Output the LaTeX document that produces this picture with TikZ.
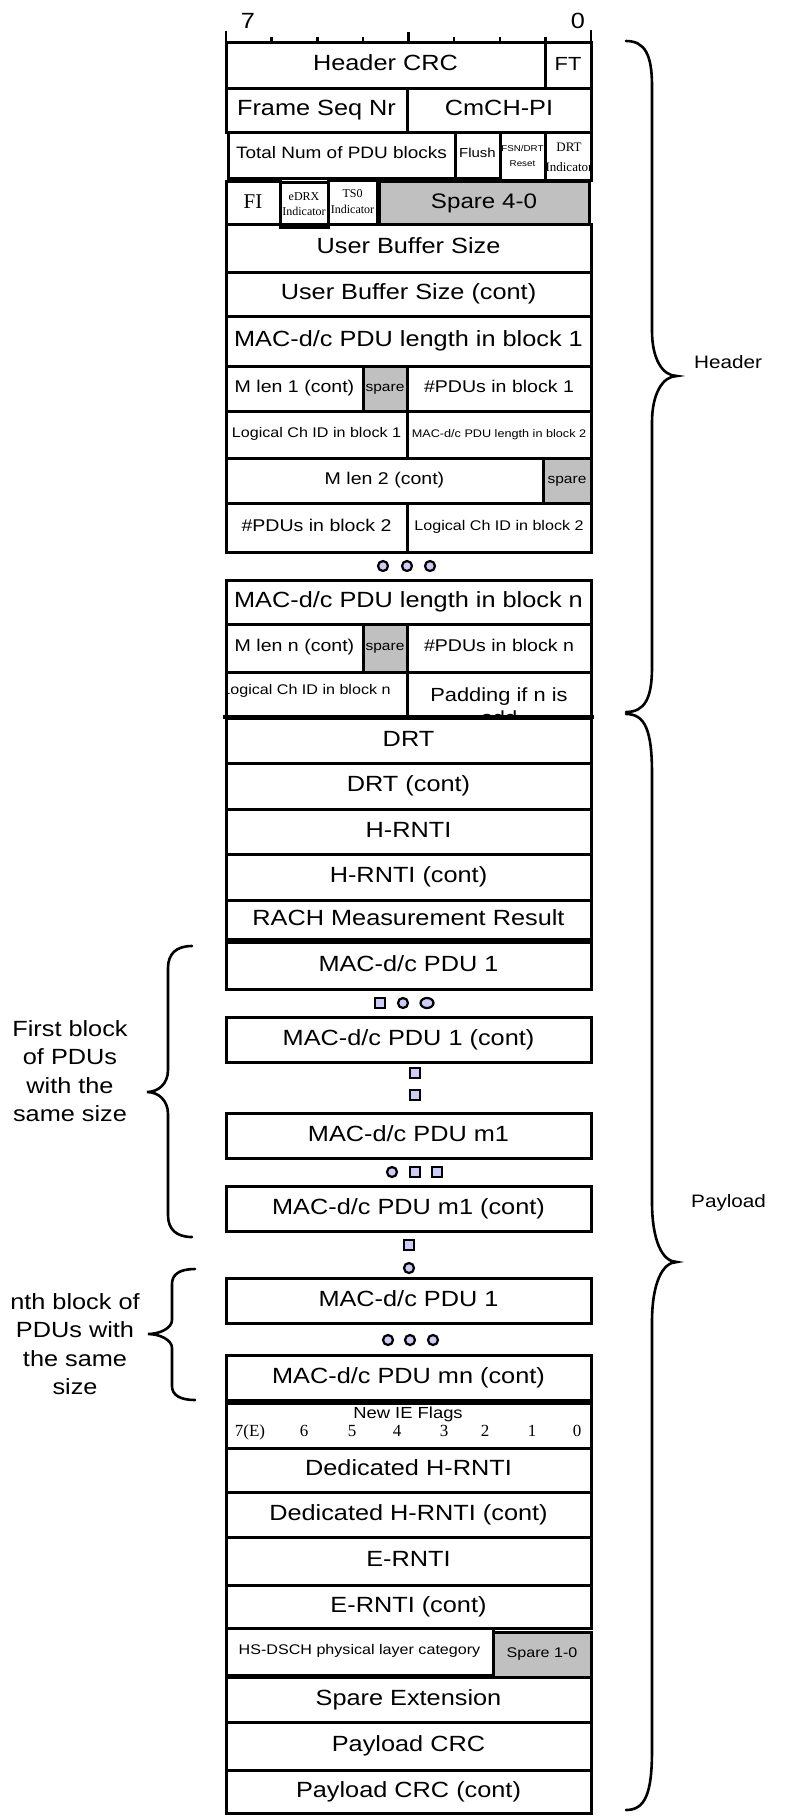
\documentclass[tikz,border=0pt]{standalone}
\usepackage{fontspec}
\setmainfont{Liberation Sans}[FakeStretch=1.15]
\newfontfamily\timesfam{Liberation Serif}
\usetikzlibrary{calc}
\definecolor{sparegray}{RGB}{192,192,192}
\definecolor{dotfill}{RGB}{204,204,250}
\def\field[#1](#2)(#3)[#4]#5#6{\draw[#1] (#2) rectangle (#3); \node[#4] (#5) at ($(#2)!0.5!(#3)$) {#6};}
\tikzset{
  fld/.style={draw=black, line width=3pt},
  sparefld/.style={fld, fill=sparegray},
  rulertick/.style={line width=2.6pt},
  brc/.style={line width=2.6pt, line cap=round},
  dotm/.style={draw=black, line width=2.2pt, fill=dotfill},
  txt/.style={inner sep=0pt, anchor=mid},
  txtbig/.style={txt, font=\fontsize{22}{26}\selectfont, yshift=-3pt},
  txtmid/.style={txt, font=\fontsize{17}{20}\selectfont, yshift=-1pt},
  txtsmall/.style={txt, font=\fontsize{14}{17}\selectfont},
  txttiny/.style={txt, font=\fontsize{11}{13}\selectfont},
  txtspare/.style={txt, font=\fontsize{13.5}{16}\selectfont},
  txtlines/.style={inner sep=0pt, align=center},
  txtside/.style={txtlines, font=\fontsize{22}{28.5}\selectfont},
  txtbit/.style={txt, font=\timesfam\fontsize{17}{20}\selectfont}
}

\begin{document}
\begin{tikzpicture}[x=1pt,y=-1pt]
	%%%%% START %%%%%
	\useasboundingbox (0,0) rectangle (785,1816);
	
	% bit ruler
	\node[txtbig] (msb) at (248,23) {7};
	\node[txtbig] (lsb) at (578,23) {0};
	\draw[rulertick] (226,42) -- (226,31);
	\draw[rulertick] (271.6,42) -- (271.6,37);
	\draw[rulertick] (317.3,42) -- (317.3,37);
	\draw[rulertick] (362.9,42) -- (362.9,37);
	\draw[rulertick] (408.5,42) -- (408.5,32);
	\draw[rulertick] (454.1,42) -- (454.1,37);
	\draw[rulertick] (499.8,42) -- (499.8,37);
	\draw[rulertick] (545.4,42) -- (545.4,37);
	\draw[rulertick] (591,42) -- (591,30);
	
	% header
	\field[fld](226,42)(545,88)[txtbig]{hcrc}{Header CRC}
	\field[fld](545,42)(591,88)[txtbig,font=\fontsize{19}{22}\selectfont]{ft}{FT}
	\field[fld](226,88)(407,132)[txtbig]{seqnr}{Frame Seq Nr}
	\field[fld](407,88)(591,132)[txtbig]{cmchpi}{CmCH-PI}
	\field[fld](228,132)(455,178)[txtmid,font=\fontsize{16.5}{19}\selectfont]{totnum}{Total Num of PDU blocks}
	\field[fld](455,132)(500,178)[txtspare,font=\fontsize{13}{15}\selectfont]{flush}{Flush}
	\field[fld](500,132)(545,180)[txtlines,font=\fontsize{8.5}{15}\selectfont]{fsnreset}{FSN/DRT\\Reset}
	\begin{scope}
		\clip (545,132) rectangle (591,180);
		\node[txtlines,font=\timesfam\fontsize{13}{20}\selectfont] (drtind) at (569,157) {DRT\\Indicator};
	\end{scope}
	\draw[fld] (545,132) rectangle (591,180);
	
	\field[fld](226,181)(280,224)[txtbig,font=\timesfam\fontsize{21}{22}\selectfont]{fi}{FI}
	\field[fld](280,182)(328,227)[txtlines,font=\timesfam\fontsize{12}{15}\selectfont]{edrx}{eDRX\\Indicator}
	\field[fld](328,180)(377,224)[txtlines,font=\timesfam\fontsize{12}{16}\selectfont]{tsind}{TS0\\Indicator}
	\field[sparefld](379,181)(589,224)[txtbig,font=\fontsize{21}{24}\selectfont]{spare4}{Spare 4-0}
	
	\field[fld](226,224)(591,272)[txtbig]{ubs}{User Buffer Size}
	\field[fld](226,272)(591,316)[txtbig]{ubsc}{User Buffer Size (cont)}
	\field[fld](226,316)(591,366)[txtbig]{lenone}{MAC-d/c PDU length in block 1}
	\field[fld](226,366)(363,411)[txtmid]{mlenone}{M len 1 (cont)}
	\field[sparefld](363,366)(407,411)[txtspare]{spareone}{spare}
	\field[fld](407,366)(591,411)[txtmid]{npduone}{\#PDUs in block 1}
	\field[fld](226,411)(407,458)[txtsmall]{lchone}{Logical Ch ID in block 1}
	\field[fld](407,411)(591,458)[txttiny]{lentwo}{MAC-d/c PDU length in block 2}
	\field[fld](226,458)(543,503)[txtmid]{mlentwo}{M len 2 (cont)}
	\field[sparefld](543,458)(591,503)[txtspare]{sparetwo}{spare}
	\field[fld](226,503)(407,552)[txtmid]{npdutwo}{\#PDUs in block 2}
	\field[fld](407,503)(591,552)[txtsmall]{lchtwo}{Logical Ch ID in block 2}
	
	\draw[dotm] (383,566) circle (5pt);
	\draw[dotm] (407,566) circle (5pt);
	\draw[dotm] (430,566) circle (5pt);
	
	\field[fld](226,580)(591,624)[txtbig]{lenn}{MAC-d/c PDU length in block n}
	\field[fld](226,624)(363,672)[txtmid]{mlenn}{M len n (cont)}
	\field[sparefld](363,624)(407,672)[txtspare]{sparen}{spare}
	\field[fld](407,624)(591,672)[txtmid]{npdun}{\#PDUs in block n}
	\begin{scope}
		\clip (226,672) rectangle (407,717);
		\node[txtsmall] (lchn) at (306,692) {Logical Ch ID in block n};
	\end{scope}
	\draw[fld] (226,672) rectangle (407,717);
	\begin{scope}
		\clip (407,672) rectangle (591,717);
		\node[txtlines,font=\fontsize{19}{23}\selectfont] (padding) at (499,706) {Padding if n is\\odd};
	\end{scope}
	\draw[fld] (407,672) rectangle (591,717);
	\draw[line width=4.5pt] (223,717) -- (594,717);
	
	% payload
	\field[fld](226,718)(591,763)[txtbig]{drt}{DRT}
	\field[fld](226,763)(591,809)[txtbig]{drtc}{DRT (cont)}
	\field[fld](226,809)(591,854)[txtbig]{hrnti}{H-RNTI}
	\field[fld](226,854)(591,900)[txtbig]{hrntic}{H-RNTI (cont)}
	\field[fld](226,900)(591,939)[txtbig]{rach}{RACH Measurement Result}
	
	\field[fld](226,942)(591,989)[txtbig]{pduone}{MAC-d/c PDU 1}
	\draw[dotm] (375,998) rectangle (385,1008);
	\draw[dotm] (403,1003) circle (5pt);
	\draw[dotm] (427,1003) ellipse (6.5pt and 5pt);
	\field[fld](226,1017)(591,1062)[txtbig]{pduonec}{MAC-d/c PDU 1 (cont)}
	\draw[dotm] (410,1068) rectangle (420,1078);
	\draw[dotm] (410,1090) rectangle (420,1100);
	\field[fld](226,1113)(591,1158)[txtbig]{pdum}{MAC-d/c PDU m1}
	\draw[dotm] (392,1172) circle (5pt);
	\draw[dotm] (410,1167) rectangle (420,1177);
	\draw[dotm] (432,1167) rectangle (442,1177);
	\field[fld](226,1186)(591,1231)[txtbig]{pdumc}{MAC-d/c PDU m1 (cont)}
	\draw[dotm] (404,1240) rectangle (414,1250);
	\draw[dotm] (409,1268) circle (5pt);
	\field[fld](226,1278)(591,1323)[txtbig]{pdun}{MAC-d/c PDU 1}
	\draw[dotm] (388,1340) circle (5pt);
	\draw[dotm] (410,1340) circle (5pt);
	\draw[dotm] (433,1340) circle (5pt);
	\field[fld](226,1355)(591,1400)[txtbig]{pdumn}{MAC-d/c PDU mn (cont)}
	
	\draw[fld] (226,1403) rectangle (591,1448);
	\node[txt,font=\fontsize{16}{18}\selectfont] (newie) at (408,1416) {New IE Flags};
	\node[txtbit] (fseven) at (250,1434) {7(E)};
	\node[txtbit] (fsix) at (304,1434) {6};
	\node[txtbit] (ffive) at (352,1434) {5};
	\node[txtbit] (ffour) at (397,1434) {4};
	\node[txtbit] (fthree) at (444,1434) {3};
	\node[txtbit] (ftwo) at (485,1434) {2};
	\node[txtbit] (fone) at (532,1434) {1};
	\node[txtbit] (fzero) at (577,1434) {0};
	
	\field[fld](226,1448)(591,1492)[txtbig]{dhrnti}{Dedicated H-RNTI}
	\field[fld](226,1492)(591,1537)[txtbig]{dhrntic}{Dedicated H-RNTI (cont)}
	\field[fld](226,1537)(591,1585)[txtbig]{ernti}{E-RNTI}
	\field[fld](226,1585)(591,1628)[txtbig]{erntic}{E-RNTI (cont)}
	\field[fld](226,1628)(493,1675)[txtsmall]{hsdsch}{HS-DSCH physical layer category}
	\field[sparefld](493,1632)(591,1677)[txtsmall]{spareonezero}{Spare 1-0}
	\field[fld](226,1677)(591,1722)[txtbig]{spext}{Spare Extension}
	\field[fld](226,1722)(591,1770)[txtbig]{pcrc}{Payload CRC}
	\field[fld](226,1770)(591,1813)[txtbig]{pcrcc}{Payload CRC (cont)}
	
	% braces on the right
	\draw[brc] (626,41) .. controls (645,41) and (652,55) .. (652,86) -- (652,331)
		.. controls (652,358) and (662,376) .. (677,376)
		.. controls (662,376) and (652,395) .. (652,422) -- (652,667)
		.. controls (652,698) and (645,712) .. (626,712);
	\node[txt,anchor=west,font=\fontsize{18}{20}\selectfont] (hdrlabel) at (694,362) {Header};
	
	\draw[brc] (626,714) .. controls (645,714) and (652,730) .. (652,774) -- (652,1202)
		.. controls (652,1240) and (662,1262) .. (677,1262)
		.. controls (662,1262) and (652,1284) .. (652,1322) -- (652,1750)
		.. controls (652,1794) and (645,1810) .. (626,1810);
	\node[txt,anchor=west,font=\fontsize{18}{20}\selectfont] (pldlabel) at (691,1203) {Payload};
	
	% braces on the left
	\draw[brc] (192,946) .. controls (176,946) and (168,954) .. (168,968) -- (168,1070)
		.. controls (168,1084) and (158,1092) .. (147,1092)
		.. controls (158,1092) and (168,1100) .. (168,1114) -- (168,1215)
		.. controls (168,1229) and (176,1237) .. (192,1237);
	\node[txtside] (firstblk) at (70,1071) {First block\\of PDUs\\with the\\same size};
	
	\draw[brc] (195,1269) .. controls (180,1269) and (172,1274) .. (172,1284) -- (172,1320)
		.. controls (172,1328) and (160,1334) .. (148,1334)
		.. controls (160,1334) and (172,1340) .. (172,1348) -- (172,1386)
		.. controls (172,1395) and (180,1400) .. (195,1400);
	\node[txtside] (nthblk) at (75,1344) {nth block of\\PDUs with\\the same\\size};
	
	%%%%% END %%%%%
\end{tikzpicture}
\end{document}
